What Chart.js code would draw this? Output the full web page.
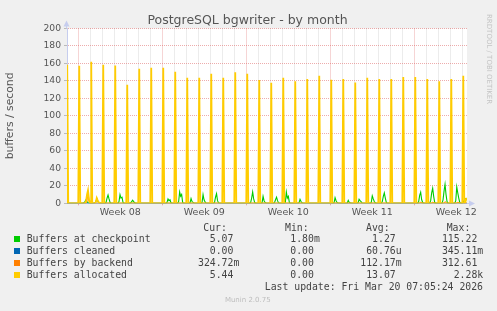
<!DOCTYPE html>
<html>
<head>
<meta charset="utf-8">
<script src="https://cdn.jsdelivr.net/npm/chart.js@4/dist/chart.umd.min.js"></script>
<style>
html,body{margin:0;padding:0;background:#f0f0f0;}
#wrap{position:relative;width:497px;height:311px;overflow:hidden;background:#f0f0f0;}
#c{position:absolute;left:0;top:0;}
.abs{position:absolute;white-space:pre;}
.mono{font-family:"DejaVu Sans Mono",monospace;font-size:9.8px;line-height:12px;color:#444;}
.sq{position:absolute;width:6px;height:6px;}
</style>
</head>
<body>
<div id="wrap">
<canvas id="c" width="497" height="311"></canvas>
</div>
<script>
// ---------------- data ----------------
const rangeStartDay = -0.94;   // graph start, in days from Monday of week 08
const rangeEndDay = 32.39;     // graph end
const sampleDays = 1 / 12;     // one 2-hour consolidated sample

const weekLabels = ['Week 08', 'Week 09', 'Week 10', 'Week 11', 'Week 12'];
const weekStartDays = [0, 7, 14, 21, 28];
const weekMidDays = [3.5, 10.5, 17.5, 24.5, 31.5];

// Buffers allocated: one large daily peak
const allocPeakDays = [-0.92, 0.08, 1.08, 2.08, 3.08, 4.08, 5.08, 6.08, 7.08, 8.08, 9.08, 10.08,
  11.08, 12.08, 13.08, 14.08, 15.08, 16.08, 17.08, 18.08, 19.08, 20.08, 21.08, 22.08, 23.08,
  24.08, 25.08, 26.08, 27.08, 28.08, 29.08, 30.08, 31.08, 32.08];
const allocPeakValues = [158.6, 157.5, 162, 158.6, 157.8, 135.6, 154, 155.2, 155.2, 150.6, 143.7,
  143.7, 148.3, 143.7, 149.8, 148.3, 141, 137.9, 143.7, 139.5, 142.1, 146, 141.4, 142.1, 138.3,
  143.7, 142.1, 142.1, 144.4, 144.4, 142.1, 139.5, 142.1, 146];
// Buffers allocated: small bumps near zero
const allocBumpDays = [0.81, 1.62, 32.33];
const allocBumpValues = [[2, 10, 15, 4, 1], [1, 6, 3, 1, 0.5], [1, 5.44, 5.44]];

// Buffers at checkpoint: daily bumps
const checkpointDays = [0.64, 1.56, 2.48, 3.56, 4.53, 7.56, 8.53, 9.48, 10.48, 11.52, 14.53, 15.48,
  16.52, 17.42, 18.56, 21.48, 22.58, 23.48, 24.58, 25.5, 28.53, 29.53, 30.56, 31.62, 32.22];
const checkpointValues = [
  [0.5, 2, 4, 2, 0.5], [0.5, 2.5, 5, 2, 0.5], [1, 6, 9.5, 5, 1], [2, 10, 6, 7, 1], [0.5, 2, 3.5, 2, 0.5],
  [1, 5, 3, 4, 0.5], [2, 13, 8, 10, 1], [0.5, 5.5, 2, 1, 0.3], [1, 10, 4, 1.5, 0.3], [1, 7, 11, 3, 0.5],
  [1, 6, 13, 5, 1], [0.5, 8, 3, 1, 0.3], [1, 4, 7, 3, 0.5], [1, 13, 6, 8, 1], [0.5, 4.5, 2, 0.5, 0.2],
  [0.5, 6.5, 3, 1, 0.3], [0.3, 3.4, 1, 0.5, 0.2], [0.5, 4.6, 3, 2, 0.3], [1, 8.5, 5, 2, 0.5], [2, 8, 12, 6, 1],
  [2, 9, 12.6, 4, 1], [3, 12, 17.2, 8, 1], [4, 14, 21.8, 10, 2], [3, 18.8, 12, 6, 1], [1, 3, 5.07, 5.07, 5.07]];

// Buffers by backend
const backendDays = [0.81, 28.55, 29.55, 30.58, 31.64, 32.33];
const backendValues = [[0, 3, 14, 2, 0], [0.5, 1.5, 0.5], [0.5, 1.5, 0.5], [0.5, 2, 0.5], [0.5, 1.5, 0.5], [0.3, 0.32, 0.32]];

// Buffers cleaned (zero over the whole range)
const cleanedDays = [rangeStartDay, rangeEndDay];
const cleanedValues = [[0], [0]];

// legend table
const seriesNames = ['Buffers at checkpoint', 'Buffers cleaned', 'Buffers by backend', 'Buffers allocated'];
const seriesColors = ['#00CC00', '#0066B3', '#FF8000', '#FFCC00'];
const curText = ['5.07 ', '0.00 ', '324.72m', '5.44 '];
const minText = ['1.80m', '0.00 ', '0.00 ', '0.00 '];
const avgText = ['1.27 ', '60.76u', '112.17m', '13.07 '];
const maxText = ['115.22 ', '345.11m', '312.61 ', '2.28k'];
const lastUpdate = 'Last update: Fri Mar 20 07:05:24 2026';

// ---------------- build points ----------------
function buildSeries(days, profiles) {
  const pts = [{x: rangeStartDay, y: 0}];
  days.forEach((d, i) => {
    const p = profiles[i];
    const h = (p.length - 1) / 2;
    pts.push({x: d - (h + 1) * sampleDays, y: 0});
    p.forEach((v, j) => pts.push({x: d + (j - h) * sampleDays, y: v}));
    pts.push({x: d + (h + 1) * sampleDays, y: 0});
  });
  pts.sort((a, b) => a.x - b.x);
  if (pts[pts.length - 1].x < rangeEndDay) pts.push({x: rangeEndDay, y: 0});
  return pts;
}
const allocPoints = buildSeries(allocPeakDays.concat(allocBumpDays),
  allocPeakValues.map(v => [v]).concat(allocBumpValues));
const checkpointPoints = buildSeries(checkpointDays, checkpointValues);
const backendPoints = buildSeries(backendDays, backendValues);
const cleanedPoints = cleanedDays.map((d, i) => ({x: d, y: cleanedValues[i][0]}));

// ---------------- chart ----------------
const majorGrid = 'rgba(220,90,90,0.5)';
const minorGrid = 'rgba(170,170,170,0.45)';
const axisColor = '#c6cdee';
const textColor = '#555';

const framePlugin = {
  id: 'frame',
  beforeDraw(chart) {
    const {ctx, chartArea: a} = chart;
    ctx.save();
    ctx.fillStyle = '#ffffff';
    ctx.fillRect(a.left, a.top, a.right - a.left, a.bottom - a.top);
    ctx.restore();
  },
  afterDraw(chart) {
    const {ctx, chartArea: a} = chart;
    ctx.save();
    ctx.strokeStyle = axisColor;
    ctx.fillStyle = axisColor;
    ctx.lineWidth = 1;
    const lx = Math.round(a.left) - 0.5, by = Math.round(a.bottom) + 0.5;
    ctx.beginPath();
    ctx.moveTo(lx, a.top); ctx.lineTo(lx, a.top - 4);
    ctx.moveTo(a.right, by); ctx.lineTo(a.right + 4, by);
    ctx.stroke();
    ctx.beginPath();
    ctx.moveTo(lx, a.top - 8); ctx.lineTo(lx - 3, a.top - 2); ctx.lineTo(lx + 3, a.top - 2); ctx.closePath();
    ctx.fill();
    ctx.beginPath();
    ctx.moveTo(a.right + 8, by); ctx.lineTo(a.right + 2, by - 3); ctx.lineTo(a.right + 2, by + 3); ctx.closePath();
    ctx.fill();
    ctx.restore();
  }
};

const lineDs = (label, data, color, order, width) => ({
  label, data, borderColor: color, backgroundColor: color, borderWidth: width,
  pointRadius: 0, tension: 0, fill: false, order, spanGaps: true
});

new Chart(document.getElementById('c'), {
  type: 'line',
  data: {
    datasets: [
      lineDs(seriesNames[3], allocPoints, seriesColors[3], 0, 1.8),
      lineDs(seriesNames[2], backendPoints, seriesColors[2], 1, 1),
      lineDs(seriesNames[1], cleanedPoints, seriesColors[1], 2, 1),
      lineDs(seriesNames[0], checkpointPoints, seriesColors[0], 3, 1.1)
    ]
  },
  options: {
    responsive: false,
    animation: false,
    parsing: true,
    normalized: true,
    layout: {padding: {left: 0, top: 28.5, right: 30, bottom: 87.7}},
    plugins: {legend: {display: false}, title: {display: false}, tooltip: {enabled: false}},
    scales: {
      x: {
        type: 'linear',
        min: rangeStartDay,
        max: rangeEndDay,
        afterBuildTicks(scale) {
          const t = [];
          for (let d = 0; d <= Math.floor(rangeEndDay); d++) t.push({value: d});
          weekMidDays.forEach(v => t.push({value: v}));
          t.sort((p, q) => p.value - q.value);
          scale.ticks = t;
        },
        afterFit(scale) { scale.height = 20; },
        ticks: {
          autoSkip: false, maxRotation: 0, minRotation: 0, padding: 2,
          color: textColor, font: {family: 'DejaVu Sans', size: 9.5},
          callback(v) { const i = weekMidDays.indexOf(v); return i >= 0 ? weekLabels[i] : ''; }
        },
        grid: {
          color(ctx) {
            const v = ctx.tick ? ctx.tick.value : null;
            if (v === null || !Number.isInteger(v)) return 'rgba(0,0,0,0)';
            return weekStartDays.includes(v) ? majorGrid : minorGrid;
          },
          tickColor(ctx) {
            const v = ctx.tick ? ctx.tick.value : null;
            return weekStartDays.includes(v) ? majorGrid : 'rgba(0,0,0,0)';
          },
          tickLength: 2, lineWidth: 1
        },
        border: {color: axisColor, dash: [1, 1]}
      },
      y: {
        min: 0, max: 200,
        afterFit(scale) { scale.width = 67; },
        ticks: {
          stepSize: 10, padding: 3, color: textColor,
          font: {family: 'DejaVu Sans', size: 9.2},
          callback(v) { return v % 20 === 0 ? String(v) : ''; }
        },
        grid: {
          color(ctx) { const v = ctx.tick ? ctx.tick.value : 0; return v % 20 === 0 ? majorGrid : minorGrid; },
          tickColor: 'rgba(150,150,150,0.6)', tickLength: 3, lineWidth: 1
        },
        border: {color: axisColor, dash: [1, 1]},
        title: {
          display: true, text: 'buffers / second', color: textColor,
          font: {family: 'DejaVu Sans', size: 10.8}, padding: {top: 4, bottom: 0}
        }
      }
    }
  },
  plugins: [framePlugin]
});

// ---------------- text around the chart ----------------
const wrap = document.getElementById('wrap');
function addText(txt, style, cls) {
  const d = document.createElement('div');
  d.className = 'abs ' + (cls || '');
  d.textContent = txt;
  Object.assign(d.style, style);
  wrap.appendChild(d);
  return d;
}
addText('PostgreSQL bgwriter - by month',
  {left: '0px', width: '495px', top: '12px', textAlign: 'center', fontFamily: 'DejaVu Sans',
   fontSize: '12.5px', lineHeight: '15px', color: '#555'});
addText('RRDTOOL / TOBI OETIKER',
  {left: '484px', top: '14px', writingMode: 'vertical-rl', fontFamily: 'DejaVu Sans',
   fontSize: '7px', lineHeight: '9px', color: '#c4c4c4'});

const headerTop = 221.7, rowTop0 = 233.3, rowStep = 12;
addText('Cur:', {left: '203.3px', top: headerTop + 'px'}, 'mono');
addText('Min:', {left: '285px', top: headerTop + 'px'}, 'mono');
addText('Avg:', {left: '366px', top: headerTop + 'px'}, 'mono');
addText('Max:', {left: '446.7px', top: headerTop + 'px'}, 'mono');
const colRight = [239.3, 319.8, 401.6, 483.2];
const cols = [curText, minText, avgText, maxText];
seriesNames.forEach((name, i) => {
  const top = rowTop0 + i * rowStep;
  const sq = document.createElement('div');
  sq.className = 'sq';
  Object.assign(sq.style, {left: '14px', top: (top + 3) + 'px', background: seriesColors[i]});
  wrap.appendChild(sq);
  addText(name, {left: '26.7px', top: top + 'px'}, 'mono');
  cols.forEach((c, j) => addText(c[i], {right: (497 - colRight[j]) + 'px', top: top + 'px', textAlign: 'right'}, 'mono'));
});
addText(lastUpdate, {right: (497 - 483) + 'px', top: (rowTop0 + 4 * rowStep) + 'px', textAlign: 'right'}, 'mono');
addText('Munin 2.0.75', {left: '0px', width: '495.6px', top: '295.5px', textAlign: 'center',
  fontFamily: 'DejaVu Sans', fontSize: '7px', lineHeight: '9px', color: '#bdbdbd'});
</script>
</body>
</html>
